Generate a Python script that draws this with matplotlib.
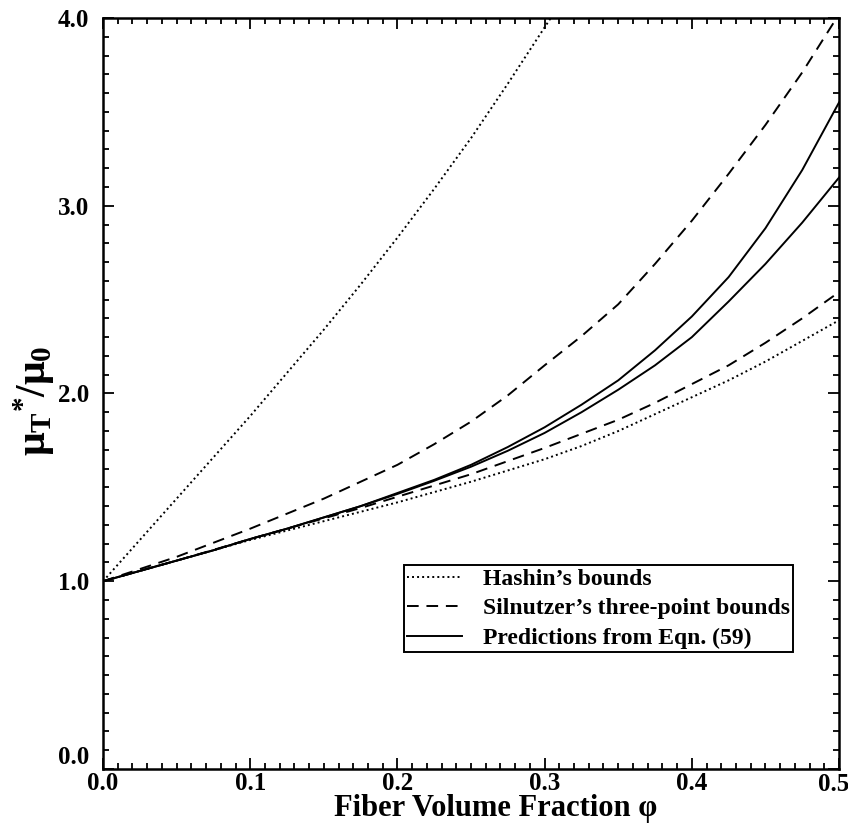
import matplotlib
matplotlib.use("Agg")
import matplotlib.pyplot as plt
import matplotlib.transforms as mtransforms
from matplotlib.ticker import MultipleLocator

plt.rcParams['font.family'] = ['Liberation Serif', 'DejaVu Serif']
plt.rcParams['font.weight'] = 'bold'
plt.rcParams['mathtext.fontset'] = 'custom'
plt.rcParams['mathtext.rm'] = 'Liberation Serif:bold'
plt.rcParams['mathtext.it'] = 'Liberation Serif:bold'
plt.rcParams['mathtext.bf'] = 'Liberation Serif:bold'

# ---- data ----
phi = [0.0, 0.025, 0.05, 0.075, 0.10, 0.125, 0.15, 0.175, 0.20, 0.225, 0.25,
       0.275, 0.30, 0.325, 0.35, 0.375, 0.40, 0.425, 0.45, 0.475, 0.50]

hashin_upper_phi = [0.0, 0.025, 0.05, 0.075, 0.10, 0.125, 0.15, 0.175, 0.20,
                    0.225, 0.25, 0.275, 0.30, 0.31]
hashin_upper = [1.0, 1.22, 1.44, 1.66, 1.88, 2.11, 2.34, 2.58, 2.83,
                3.09, 3.36, 3.65, 3.95, 4.07]
hashin_lower = [1.0, 1.055, 1.11, 1.165, 1.22, 1.27, 1.32, 1.37, 1.42, 1.475, 1.53,
                1.59, 1.65, 1.72, 1.80, 1.89, 1.98, 2.07, 2.17, 2.28, 2.39]

silnutzer_upper = [1.0, 1.065, 1.13, 1.205, 1.28, 1.36, 1.44, 1.53, 1.62, 1.73, 1.85,
                   1.99, 2.15, 2.305, 2.475, 2.69, 2.92, 3.17, 3.43, 3.71, 4.02]
silnutzer_lower = [1.0, 1.055, 1.11, 1.167, 1.225, 1.28, 1.335, 1.39, 1.45, 1.51, 1.57,
                   1.64, 1.71, 1.785, 1.86, 1.95, 2.05, 2.15, 2.27, 2.40, 2.54]

eqn59_upper = [1.0, 1.055, 1.11, 1.165, 1.225, 1.28, 1.34, 1.40, 1.47, 1.54, 1.62,
               1.715, 1.82, 1.94, 2.07, 2.23, 2.41, 2.62, 2.88, 3.19, 3.55]
eqn59_lower = [1.0, 1.055, 1.11, 1.165, 1.225, 1.28, 1.34, 1.40, 1.465, 1.535, 1.61,
               1.695, 1.79, 1.90, 2.02, 2.15, 2.30, 2.49, 2.69, 2.91, 3.15]

x_ticks = [0.0, 0.1, 0.2, 0.3, 0.4, 0.5]
x_tick_labels = ["0.0", "0.1", "0.2", "0.3", "0.4", "0.5"]
y_ticks = [0.0, 1.0, 2.0, 3.0, 4.0]
y_tick_labels = ["0.0", "1.0", "2.0", "3.0", "4.0"]

legend_labels = ["Hashin\u2019s bounds",
                 "Silnutzer\u2019s three-point bounds",
                 "Predictions from Eqn. (59)"]

fig = plt.figure(figsize=(8.48, 8.32), dpi=100)
ax = fig.add_axes([0.1215, 0.0757, 0.8679, 0.9027])

lw = 1.4
dot = (0, (1, 1.6))
dash = (0, (6, 4))
l1, = ax.plot(hashin_upper_phi, hashin_upper, color='black', lw=lw, linestyle=dot)
ax.plot(phi, hashin_lower, color='black', lw=lw, linestyle=dot)
l2, = ax.plot(phi, silnutzer_upper, color='black', lw=lw, linestyle=dash)
ax.plot(phi, silnutzer_lower, color='black', lw=lw, linestyle=dash)
l3, = ax.plot(phi, eqn59_upper, color='black', lw=lw, linestyle='-')
ax.plot(phi, eqn59_lower, color='black', lw=lw, linestyle='-')

ax.set_xlim(0, 0.5)
ax.set_ylim(0, 4.0)
ax.set_xticks(x_ticks)
ax.set_yticks(y_ticks)
# last x label drawn separately (kept inside the figure edge)
ax.set_xticklabels(x_tick_labels[:-1] + [""])
ax.set_yticklabels(y_tick_labels)
ax.xaxis.set_minor_locator(MultipleLocator(0.01))
ax.yaxis.set_minor_locator(MultipleLocator(0.1))

for s in ax.spines.values():
    s.set_linewidth(1.8)
ax.tick_params(which='both', direction='in', top=True, right=True, width=1.3)
ax.tick_params(which='major', length=8)
ax.tick_params(which='minor', length=4)
ax.tick_params(axis='x', which='major', pad=2, labelsize=18)
ax.tick_params(axis='y', which='major', pad=10, labelsize=18)
for lab in ax.get_xticklabels() + ax.get_yticklabels():
    lab.set_fontweight('bold')
# bottom y label sits slightly raised in the reference
ytl = ax.get_yticklabels()
ytl[0].set_va('bottom')

# last x tick label, nudged left a few pixels like the reference
trans = mtransforms.blended_transform_factory(ax.transData, ax.transAxes) + \
    mtransforms.ScaledTranslation(-5 / 100, -2.8 / 72, fig.dpi_scale_trans)
ax.text(x_ticks[-1], 0, x_tick_labels[-1], transform=trans, ha='center', va='top',
        fontsize=18, fontweight='bold')

ax.set_xlabel("Fiber Volume Fraction \u03c6", fontsize=22, fontweight='bold')
ax.xaxis.label.set_va('baseline')
ax.xaxis.set_label_coords(0.534, -0.0625)

ax.set_ylabel(r"$\mu_{T}{}^{*}/\mu_{0}$", fontsize=30)
ax.yaxis.label.set_va('center')
ax.yaxis.set_label_coords(-0.094, 0.491)

leg = ax.legend([l1, l2, l3], legend_labels, loc='upper left',
                bbox_to_anchor=(0.409, 0.2716), borderaxespad=0,
                fancybox=False, edgecolor='black', framealpha=1,
                handlelength=2.3, handletextpad=0.9, labelspacing=0.34,
                borderpad=0.14, prop={'size': 17, 'weight': 'bold'})
leg.get_frame().set_linewidth(1.4)

fig.savefig("out.png", dpi=100)
